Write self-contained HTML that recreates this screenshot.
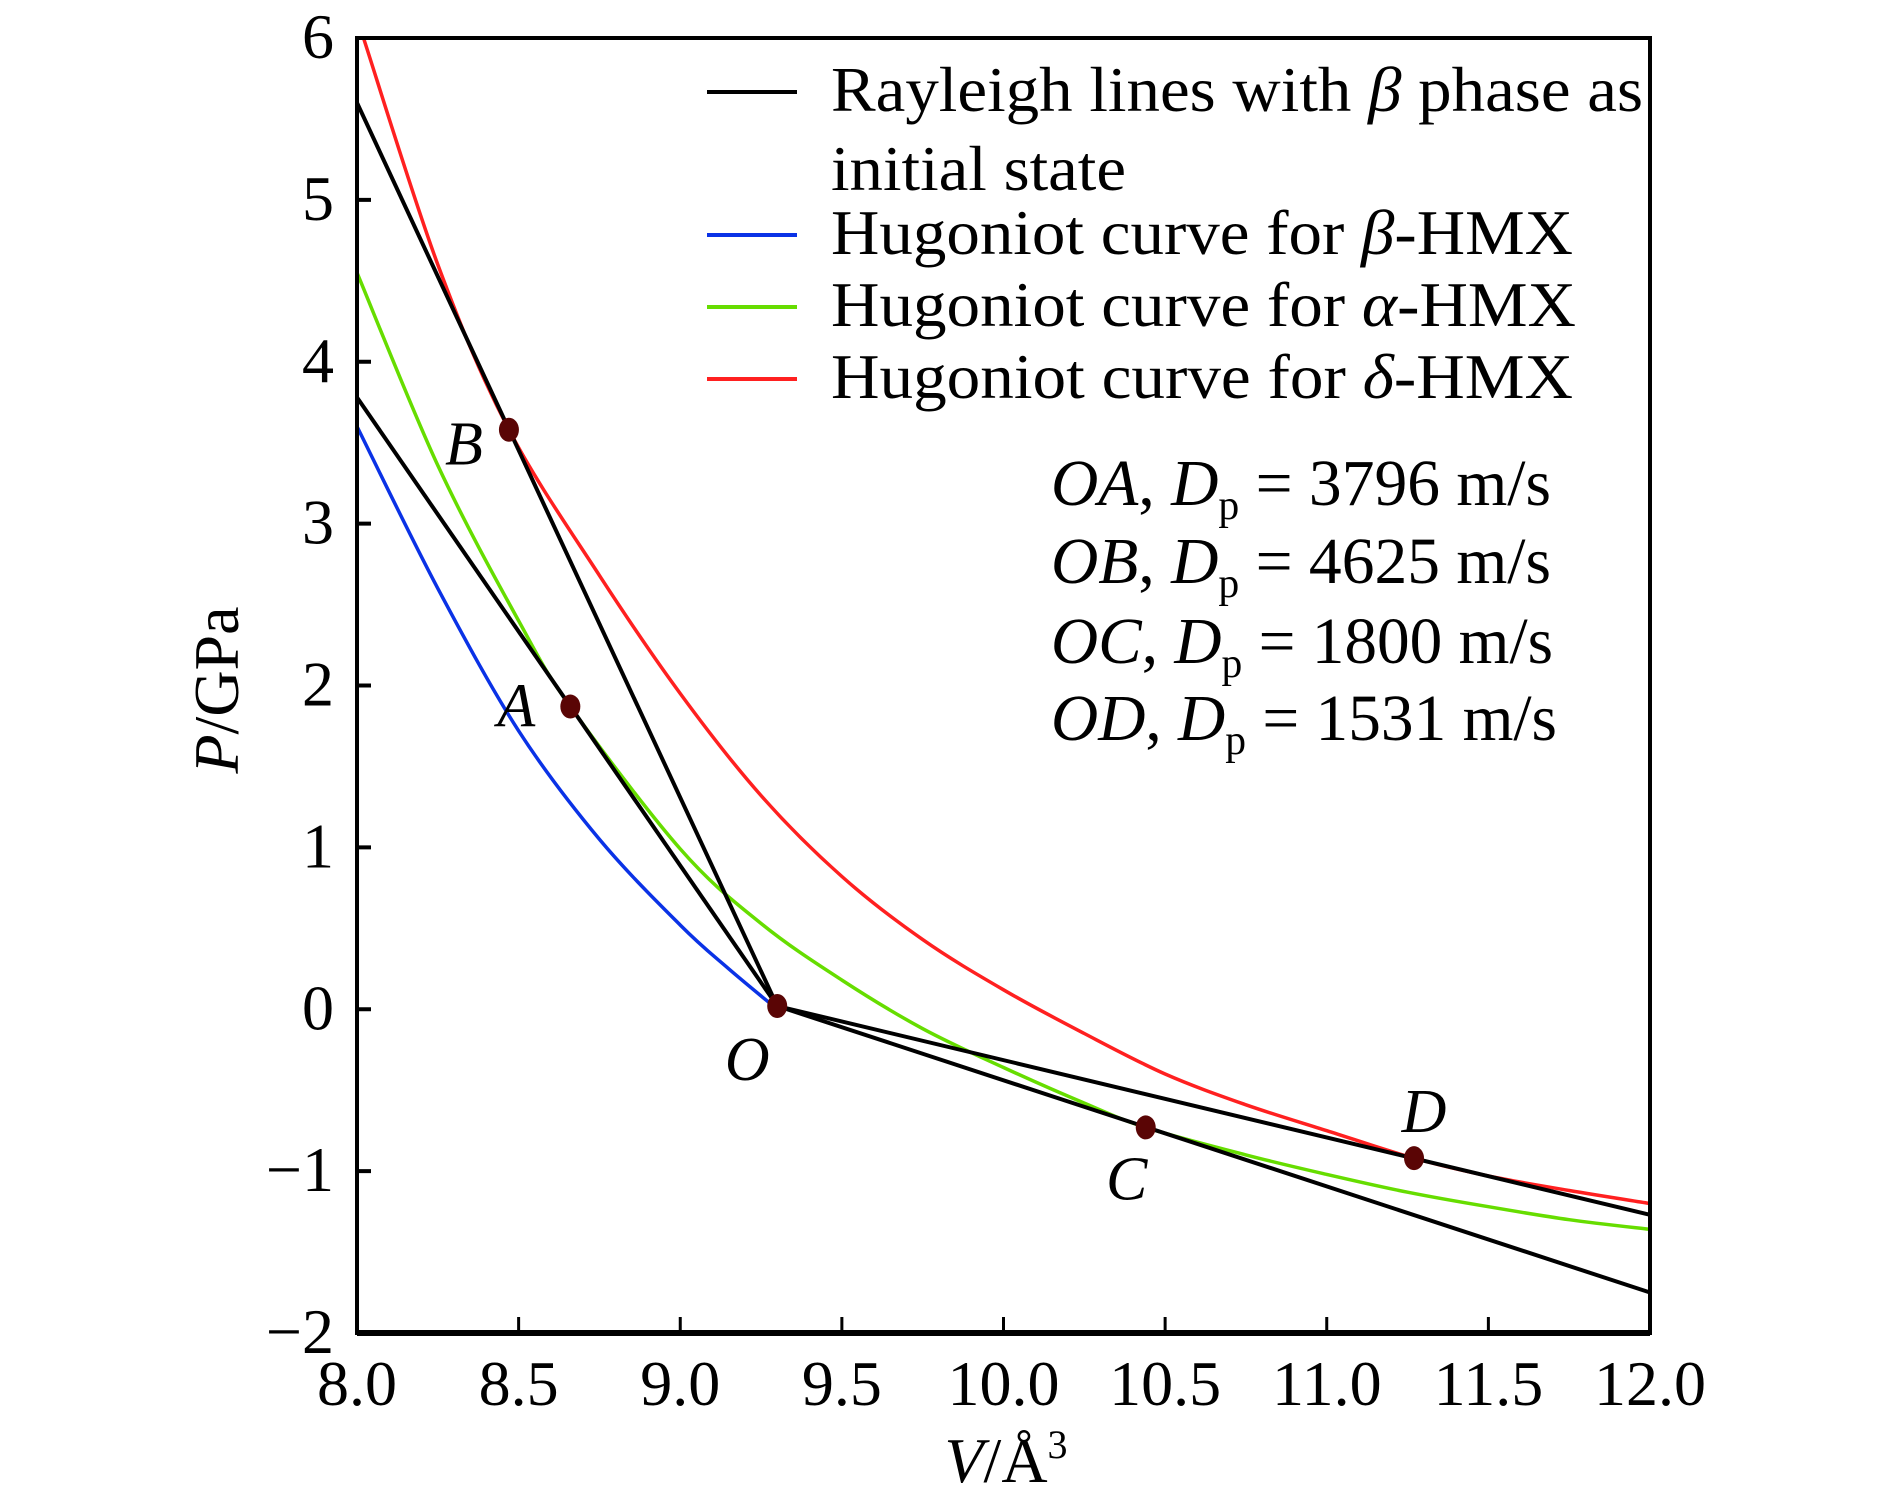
<!DOCTYPE html>
<html><head><meta charset="utf-8"><style>
html,body{margin:0;padding:0;background:#fff;}
svg{display:block;font-family:"Liberation Serif",serif;}
</style></head><body>
<svg id="chart" width="1890" height="1503" viewBox="0 0 1890 1503" xmlns="http://www.w3.org/2000/svg">
<g id="plot"></g>
<g id="axes"></g>
<g font-size="64">
  <line x1="707" y1="92" x2="797" y2="92" stroke="#000" stroke-width="4"/>
  <text x="831" y="111" textLength="812" lengthAdjust="spacingAndGlyphs">Rayleigh lines with <tspan font-style="italic">β</tspan> phase as</text>
  <text x="831" y="190" textLength="295" lengthAdjust="spacingAndGlyphs">initial state</text>
  <line x1="707" y1="235" x2="797" y2="235" stroke="#0a32e6" stroke-width="4"/>
  <text x="831" y="254" textLength="742" lengthAdjust="spacingAndGlyphs">Hugoniot curve for <tspan font-style="italic">β</tspan>-HMX</text>
  <line x1="707" y1="307" x2="797" y2="307" stroke="#66dd00" stroke-width="4"/>
  <text x="831" y="326" textLength="745" lengthAdjust="spacingAndGlyphs">Hugoniot curve for <tspan font-style="italic">α</tspan>-HMX</text>
  <line x1="707" y1="379" x2="797" y2="379" stroke="#ff2020" stroke-width="4"/>
  <text x="831" y="398" textLength="742" lengthAdjust="spacingAndGlyphs">Hugoniot curve for <tspan font-style="italic">δ</tspan>-HMX</text>
</g>
<g font-size="66">
  <text x="1051" y="505" textLength="500" lengthAdjust="spacingAndGlyphs"><tspan font-style="italic">OA</tspan>, <tspan font-style="italic">D</tspan><tspan font-size="42" dy="14">p</tspan><tspan dy="-14"> = 3796 m/s</tspan></text>
  <text x="1051" y="583" textLength="500" lengthAdjust="spacingAndGlyphs"><tspan font-style="italic">OB</tspan>, <tspan font-style="italic">D</tspan><tspan font-size="42" dy="14">p</tspan><tspan dy="-14"> = 4625 m/s</tspan></text>
  <text x="1051" y="663" textLength="502" lengthAdjust="spacingAndGlyphs"><tspan font-style="italic">OC</tspan>, <tspan font-style="italic">D</tspan><tspan font-size="42" dy="14">p</tspan><tspan dy="-14"> = 1800 m/s</tspan></text>
  <text x="1051" y="740" textLength="506" lengthAdjust="spacingAndGlyphs"><tspan font-style="italic">OD</tspan>, <tspan font-style="italic">D</tspan><tspan font-size="42" dy="14">p</tspan><tspan dy="-14"> = 1531 m/s</tspan></text>
</g>
<text x="1006" y="1482" font-size="64" text-anchor="middle"><tspan font-style="italic">V</tspan>/Å<tspan font-size="40" dy="-24">3</tspan></text>
<text transform="translate(238,690) rotate(-90)" font-size="64" text-anchor="middle"><tspan font-style="italic">P</tspan>/GPa</text>
</svg>
<script>
const xTicks = [8.0, 8.5, 9.0, 9.5, 10.0, 10.5, 11.0, 11.5, 12.0];
const xTickLabels = ["8.0","8.5","9.0","9.5","10.0","10.5","11.0","11.5","12.0"];
const yTicks = [-2,-1,0,1,2,3,4,5,6];
const yTickLabels = ["\u22122","\u22121","0","1","2","3","4","5","6"];

const betaV = [8.0, 8.25, 8.5, 8.75, 9.0, 9.15, 9.3];
const betaP = [3.6, 2.6, 1.72, 1.05, 0.52, 0.25, 0.0];
const alphaV = [8.0, 8.25, 8.5, 8.66, 9.0, 9.25, 9.5, 9.75, 10.0, 10.25, 10.44, 10.75, 11.0, 11.25, 11.5, 11.75, 12.0];
const alphaP = [4.55, 3.36, 2.4, 1.87, 0.99, 0.53, 0.18, -0.12, -0.36, -0.58, -0.73, -0.9, -1.02, -1.13, -1.22, -1.3, -1.36];
const deltaV = [8.02, 8.25, 8.47, 8.75, 9.0, 9.25, 9.5, 9.75, 10.0, 10.25, 10.5, 10.75, 11.0, 11.27, 11.5, 11.75, 12.0];
const deltaP = [6.0, 4.6, 3.58, 2.68, 1.95, 1.32, 0.82, 0.43, 0.12, -0.15, -0.4, -0.59, -0.75, -0.92, -1.03, -1.12, -1.2];

const pointNames = ["O","A","B","C","D"];
const pointV = [9.3, 8.66, 8.47, 10.44, 11.27];
const pointP = [0.02, 1.87, 3.58, -0.73, -0.92];
const rayleighEndV = [8.0, 8.0, 12.0, 12.0];
const rayleighEndP = [3.78, 5.6, -1.75, -1.27];

const X0=357, X1=1650, Y0=1333, Y1=38;
const sx = v => X0 + (v-8)/(12-8)*(X1-X0);
const sy = p => Y0 - (p+2)/8*(Y0-Y1);
const NS="http://www.w3.org/2000/svg";
function mk(tag, attrs, parent){const e=document.createElementNS(NS,tag);for(const k in attrs)e.setAttribute(k,attrs[k]);parent.appendChild(e);return e;}
const plot=document.getElementById('plot'), axes=document.getElementById('axes');

function smoothPath(V,P){
  const pts=V.map((v,i)=>[sx(v),sy(P[i])]);
  let d='M'+pts[0][0].toFixed(1)+' '+pts[0][1].toFixed(1);
  for(let i=0;i<pts.length-1;i++){
    const p0=pts[Math.max(0,i-1)],p1=pts[i],p2=pts[i+1],p3=pts[Math.min(pts.length-1,i+2)];
    const c1=[p1[0]+(p2[0]-p0[0])/6,p1[1]+(p2[1]-p0[1])/6];
    const c2=[p2[0]-(p3[0]-p1[0])/6,p2[1]-(p3[1]-p1[1])/6];
    d+=' C'+c1[0].toFixed(1)+' '+c1[1].toFixed(1)+' '+c2[0].toFixed(1)+' '+c2[1].toFixed(1)+' '+p2[0].toFixed(1)+' '+p2[1].toFixed(1);
  }
  return d;
}
function curve(V,P,color,name){
  const e=mk('path',{d:smoothPath(V,P),fill:'none',stroke:color,'stroke-width':3.5,'stroke-linejoin':'round'},plot);
  
  
}
curve(betaV,betaP,'#0a32e6','hugoniot-beta');
curve(alphaV,alphaP,'#66dd00','hugoniot-alpha');
curve(deltaV,deltaP,'#ff2020','hugoniot-delta');
const rNames=['rayleigh-oa','rayleigh-ob','rayleigh-oc','rayleigh-od'];
rayleighEndV.forEach((v,i)=>{
  const e=mk('line',{x1:sx(pointV[0]),y1:sy(pointP[0]),x2:sx(v),y2:sy(rayleighEndP[i]),stroke:'#000','stroke-width':4},plot);
  
  
});
const labDx=[-30,-54,-45,-19,10];
const labDy=[74,20,35,72,-26];
pointV.forEach((v,i)=>{
  const c=mk('ellipse',{cx:sx(v),cy:sy(pointP[i]),rx:10,ry:12,fill:'#5a0505'},plot);
  
  
  const t=mk('text',{x:sx(v)+labDx[i],y:sy(pointP[i])+labDy[i],'font-size':62,'font-style':'italic','text-anchor':'middle'},plot);
  t.textContent=pointNames[i];
  
  
});

const fr=mk('rect',{x:X0,y:Y1,width:X1-X0,height:Y0-Y1,fill:'none',stroke:'#000','stroke-width':4},axes);


const xa=mk('line',{x1:X0,y1:Y0,x2:X1,y2:Y0,stroke:'#000','stroke-width':6},axes);


xTicks.forEach((v,i)=>{
  if(i>0&&i<xTicks.length-1){
    const tk=mk('line',{x1:sx(v),y1:Y0,x2:sx(v),y2:Y0-16,stroke:'#000','stroke-width':3},axes);
    
    
  }
  const t=mk('text',{x:sx(v),y:1405,'font-size':64,'text-anchor':'middle'},axes);
  t.textContent=xTickLabels[i];
  
  
});
yTicks.forEach((p,i)=>{
  if(i>0&&i<yTicks.length-1){
    const tk=mk('line',{x1:X0,y1:sy(p),x2:X0+14,y2:sy(p),stroke:'#000','stroke-width':4},axes);
    
    
  }
  const t=mk('text',{x:334,y:sy(p)+20,'font-size':64,'text-anchor':'end'},axes);
  t.textContent=yTickLabels[i];
  
  
});
</script>
</body></html>
